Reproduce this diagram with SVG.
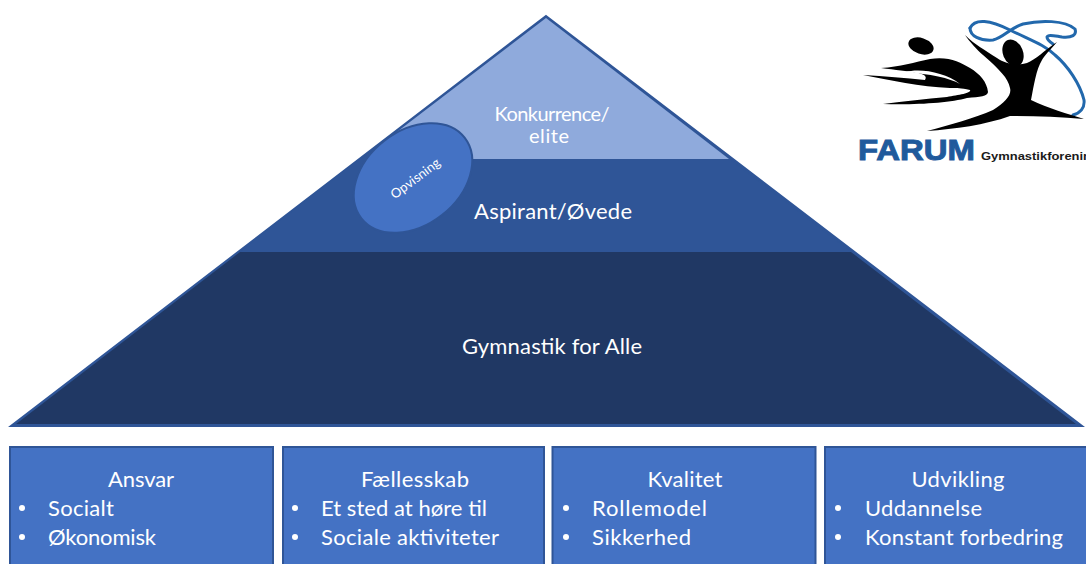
<svg xmlns="http://www.w3.org/2000/svg" width="1086" height="564" viewBox="0 0 1086 564">
<style>
text{font-family:Lato,"Open Sans","Liberation Sans",sans-serif;fill:#fff}
.t{font-size:22px;text-anchor:middle}
.l{font-size:22px}
.box{fill:#4472c4;stroke:#2f5597;stroke-width:2}
.b{fill:#fff}
.k{fill:#000}
.r{fill:none;stroke:#2268ac;stroke-linecap:round;stroke-width:3}
.brand{font-family:"Liberation Sans",sans-serif;font-weight:700}
</style>
<rect width="1086" height="564" fill="#fff"/>
<g id="pyramid-outline"><polygon points="546,16 1082,426 11,426" fill="#2f5597" stroke="#2f5597" stroke-width="2"/></g>
<g id="layer-top"><polygon points="546,18 729,159 430,159 385,141" fill="#8faadc"/>
<text x="552" y="121" font-size="20" text-anchor="middle" textLength="115" lengthAdjust="spacing">Konkurrence/</text>
<text x="549" y="143" font-size="20" text-anchor="middle" textLength="40" lengthAdjust="spacing">elite</text></g>
<g id="layer-middle"><polygon points="430,159 729,159 851,252 240,252 359,159" fill="#2f5597"/>
<text x="553" y="219" font-size="22" text-anchor="middle" textLength="158" lengthAdjust="spacing">Aspirant/Øvede</text></g>
<g id="layer-bottom"><polygon points="240,252 851,252 1076,424 16,424" fill="#203864"/>
<text x="552" y="354" font-size="22" text-anchor="middle" textLength="180" lengthAdjust="spacing">Gymnastik for Alle</text></g>
<g id="opvisning"><ellipse cx="413" cy="178" rx="65.5" ry="47" transform="rotate(-38 413 178)" fill="#4472c4" stroke="#2f5597" stroke-width="2"/>
<text x="415" y="183" font-size="13" text-anchor="middle" textLength="58" lengthAdjust="spacing" transform="rotate(-37 415 178)">Opvisning</text></g>
<g id="ansvar"><rect class="box" x="10" y="447" width="263" height="125"/>
<text class="t" x="141" y="487" textLength="66" lengthAdjust="spacing">Ansvar</text>
<circle class="b" cx="22" cy="508" r="3"/><text class="l" x="48" y="516" textLength="66" lengthAdjust="spacing">Socialt</text>
<circle class="b" cx="22" cy="537" r="3"/><text class="l" x="48" y="545" textLength="108" lengthAdjust="spacing">Økonomisk</text></g>
<g id="faellesskab"><rect class="box" x="283" y="447" width="261" height="125"/>
<text class="t" x="415" y="487" textLength="108" lengthAdjust="spacing">Fællesskab</text>
<circle class="b" cx="295" cy="508" r="3"/><text class="l" x="321" y="516" textLength="166" lengthAdjust="spacing">Et sted at høre til</text>
<circle class="b" cx="295" cy="537" r="3"/><text class="l" x="321" y="545" textLength="178" lengthAdjust="spacing">Sociale aktiviteter</text></g>
<g id="kvalitet"><rect class="box" x="552.5" y="447" width="263" height="125"/>
<text class="t" x="685" y="487" textLength="75" lengthAdjust="spacing">Kvalitet</text>
<circle class="b" cx="566" cy="508" r="3"/><text class="l" x="592" y="516" textLength="115" lengthAdjust="spacing">Rollemodel</text>
<circle class="b" cx="566" cy="537" r="3"/><text class="l" x="592" y="545" textLength="99" lengthAdjust="spacing">Sikkerhed</text></g>
<g id="udvikling"><rect class="box" x="825" y="447" width="280" height="125"/>
<text class="t" x="958" y="487" textLength="93" lengthAdjust="spacing">Udvikling</text>
<circle class="b" cx="838" cy="508" r="3"/><text class="l" x="865" y="516" textLength="117" lengthAdjust="spacing">Uddannelse</text>
<circle class="b" cx="838" cy="537" r="3"/><text class="l" x="865" y="545" textLength="198" lengthAdjust="spacing">Konstant forbedring</text></g>
<g id="logo">
<path class="r" d="M970,28C975,18 990,20 1010,30C1030,40 1045,45 1055,55C1068,66 1080,84 1084,100C1085,108 1080,113 1073,115"/>
<path class="r" d="M970,28C970,36 980,41 993,40C1003,38 1010,28 1023,24C1040,20 1065,20 1075,29C1077,35 1072,38 1062,37C1055,36 1048,34 1047,37C1047,40 1050,42 1053,44"/>
<ellipse class="k" cx="921" cy="46" rx="13" ry="8" transform="rotate(18 921 46)"/>
<path class="k" d="M881,68C900,67 915,62 930,59C948,56 960,62 970,68C980,74 987,82 988,92C988,96 980,97 967,98C950,103 915,105 883,104C905,101 925,99 947,97C958,95 972,93 970,90C960,88 958,88 950,88C920,87 890,80 863,75C885,76 905,78 925,80C930,72 910,72 881,68Z"/>
<path fill="#fff" d="M905,72C920,68 945,72 960,84C950,78 930,74 905,72Z"/>
<path class="k" d="M965,35C975,45 985,50 997,58C1005,64 1018,66 1027,63C1035,60 1045,50 1057,42C1050,50 1044,56 1042,60C1036,70 1034,85 1031,100C1048,108 1068,114 1084,119C1060,117 1035,116 1010,116C985,125 955,129 927,131C950,125 975,118 993,110C1005,102 1012,95 1010,88C1008,78 1000,70 983,55C977,50 970,42 965,35Z"/>
<ellipse class="k" cx="1013" cy="53" rx="10" ry="14" transform="rotate(-22 1013 53)"/>
<text class="brand" x="858" y="160" font-size="30" textLength="117" lengthAdjust="spacingAndGlyphs" style="fill:#1f5a9c;stroke:#1f5a9c;stroke-width:1">FARUM</text>
<text class="brand" x="981" y="160" font-size="11" textLength="110" lengthAdjust="spacingAndGlyphs" style="fill:#1a1a1a">Gymnastikforenin</text>
</g>
</svg>
